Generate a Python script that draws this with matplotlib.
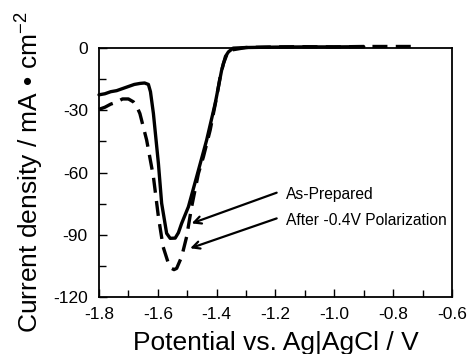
import matplotlib
matplotlib.use("Agg")
import matplotlib.pyplot as plt
from matplotlib.ticker import MultipleLocator

plt.rcParams['font.family'] = ['Liberation Sans', 'DejaVu Sans']
plt.rcParams['axes.unicode_minus'] = False
plt.rcParams['mathtext.fontset'] = 'custom'
plt.rcParams['mathtext.rm'] = 'Liberation Sans'

# --data--
pot_asprep = [-1.80, -1.78, -1.76, -1.74, -1.72, -1.70, -1.68, -1.66, -1.645, -1.632,
              -1.625, -1.615, -1.598, -1.587, -1.570, -1.558, -1.541, -1.530, -1.519,
              -1.496, -1.468, -1.434, -1.405, -1.383, -1.370, -1.360, -1.344, -1.30,
              -1.20, -1.10, -1.00, -0.90]
cur_asprep = [-22.5, -22.0, -21.0, -20.5, -19.5, -18.5, -17.5, -17.0, -16.8, -17.5,
              -21.0, -31.5, -55.6, -74.8, -89.3, -91.7, -91.6, -89.0, -84.5,
              -76.5, -62.0, -44.3, -26.7, -10.6, -4.0, -1.8, 0.0, 0.3,
              0.5, 0.6, 0.6, 0.7]

pot_polar = [-1.80, -1.78, -1.76, -1.74, -1.72, -1.70, -1.683, -1.672, -1.661, -1.638,
             -1.615, -1.598, -1.582, -1.564, -1.553, -1.545, -1.536, -1.519, -1.502,
             -1.485, -1.462, -1.445, -1.422, -1.400, -1.388, -1.377, -1.365, -1.354,
             -1.30, -1.20, -1.10, -1.00, -0.90, -0.80, -0.72]
cur_polar = [-29.5, -28.5, -27.0, -26.0, -24.5, -24.5, -25.9, -28.0, -31.5, -44.3,
             -62.0, -81.3, -95.8, -103.8, -106.2, -106.8, -106.2, -100.6, -90.9,
             -76.5, -60.4, -52.4, -39.5, -23.5, -13.8, -7.4, -3.0, -1.0,
             0.3, 0.6, 0.7, 0.6, 0.8, 0.8, 0.8]

xticks = [-1.8, -1.6, -1.4, -1.2, -1.0, -0.8, -0.6]
yticks = [0, -30, -60, -90, -120]

fig = plt.figure(figsize=(4.68, 3.54), dpi=100)
ax = fig.add_axes([0.2115, 0.161, 0.7543, 0.703])

ax.plot(pot_asprep, cur_asprep, color='black', lw=2.4, clip_on=False,
        solid_joinstyle='round', solid_capstyle='round')
ax.plot(pot_polar, cur_polar, color='black', lw=2.4, ls=(0, (4.5, 2.5)), clip_on=False)

ax.set_xlim(-1.8, -0.6)
ax.set_ylim(-120, 0)
ax.set_xticks(xticks)
ax.set_xticklabels([f"{t:.1f}" for t in xticks])
ax.set_yticks(yticks)
ax.xaxis.set_minor_locator(MultipleLocator(0.1))
ax.yaxis.set_minor_locator(MultipleLocator(15))
ax.tick_params(which='both', direction='in', width=1.0, labelsize=12.5)
ax.tick_params(axis='x', which='major', pad=7)
ax.tick_params(axis='y', which='major', pad=8)
ax.tick_params(which='major', length=6)
ax.tick_params(which='minor', length=5)
ax.tick_params(top=False, right=False, which='both')
for sp in ax.spines.values():
    sp.set_linewidth(1.3)

ax.set_xlabel("Potential vs. Ag|AgCl / V", fontsize=19, labelpad=7)
ax.set_ylabel("Current density / mA \u2022 cm$^{\\mathrm{-2}}$", fontsize=19, labelpad=6)

# arrows and labels
arrow_kw = dict(arrowstyle='->', color='black', lw=1.6, shrinkA=0, shrinkB=0,
                mutation_scale=13)
ax.annotate("", xy=(-1.485, -84.5), xytext=(-1.196, -69.7), arrowprops=arrow_kw)
ax.annotate("", xy=(-1.490, -96.5), xytext=(-1.196, -82.1), arrowprops=arrow_kw)
ax.text(-1.164, -70.8, "As-Prepared", fontsize=11.25, va='center', ha='left')
ax.text(-1.164, -82.9, "After -0.4V Polarization", fontsize=11.25, va='center', ha='left')

fig.savefig("out.png", dpi=100)
